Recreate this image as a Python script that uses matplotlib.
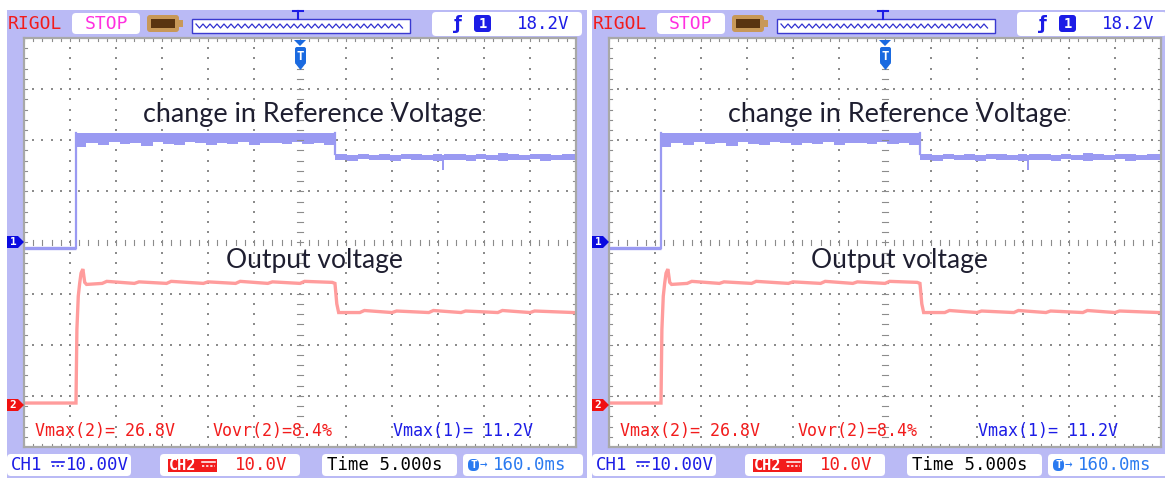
import matplotlib.pyplot as plt
import numpy as np
from matplotlib.patches import Rectangle, FancyBboxPatch, Polygon

W, H = 1165, 478
PANEL_SHIFT = 585

# ---- traces, in screen divisions (x: 0..12 div, y: -4..4 div) ----
ch1_base_t = [0.00, 1.12]
ch1_base_v = [-0.10, -0.10]
ch1_hi_top = 2.14
ch1_hi_t = [1.13, 1.35, 1.60, 1.85, 2.08, 2.30, 2.55, 2.80, 3.02, 3.25, 3.50, 3.72, 3.95,
            4.20, 4.42, 4.65, 4.90, 5.12, 5.35, 5.60, 5.82, 6.05, 6.30, 6.52, 6.76]
ch1_hi_bot = [1.86, 1.94, 1.90, 1.96, 1.92, 1.95, 1.89, 1.96, 1.93, 1.91, 1.96, 1.94, 1.90,
              1.95, 1.93, 1.96, 1.91, 1.95, 1.94, 1.92, 1.96, 1.93, 1.95, 1.91, 1.94]
ch1_lo_t = [6.76, 7.02, 7.25, 7.50, 7.72, 7.95, 8.20, 8.42, 8.65, 8.90, 9.08, 9.14,
            9.35, 9.60, 9.82, 10.05, 10.30, 10.52, 10.75, 11.00, 11.22, 11.45, 11.70, 11.98]
ch1_lo_top = [1.73, 1.72, 1.74, 1.72, 1.73, 1.72, 1.73, 1.74, 1.72, 1.73, 1.72, 1.73,
              1.74, 1.72, 1.73, 1.72, 1.76, 1.73, 1.72, 1.74, 1.73, 1.72, 1.74, 1.73]
ch1_lo_bot = [1.62, 1.60, 1.63, 1.61, 1.62, 1.60, 1.63, 1.61, 1.62, 1.60, 1.41, 1.61,
              1.62, 1.60, 1.63, 1.61, 1.60, 1.62, 1.61, 1.63, 1.60, 1.62, 1.61, 1.62]

ch2_t = [0.00, 1.13, 1.15, 1.18, 1.21, 1.24, 1.28, 1.32, 1.36,
         1.70, 1.80, 2.40, 2.50, 3.10, 3.20, 3.90, 4.00, 4.60, 4.70, 5.30, 5.40, 6.00, 6.10, 6.70,
         6.76, 6.80, 6.84,
         7.30, 7.40, 8.00, 8.10, 8.80, 8.90, 9.50, 9.60, 10.30, 10.40, 11.00, 11.10, 11.95]
ch2_v = [-3.14, -3.14, -1.70, -1.05, -0.80, -0.60, -0.52, -0.78, -0.82,
         -0.80, -0.76, -0.80, -0.77, -0.80, -0.76, -0.80, -0.77, -0.80, -0.76, -0.80, -0.77, -0.80, -0.76, -0.78,
         -0.80, -1.20, -1.37,
         -1.37, -1.33, -1.37, -1.34, -1.37, -1.33, -1.37, -1.34, -1.37, -1.33, -1.37, -1.34, -1.37]

# ---- texts ----
label_ref = "change in Reference Voltage"
label_out = "Output voltage"
meas_texts = ["Vmax(2)= 26.8V", "Vovr(2)=8.4%", "Vmax(1)= 11.2V"]
trig_level = "18.2V"
ch1_scale = "10.00V"
ch2_scale = "10.0V"
time_base = "Time 5.000s"
trig_pos = "160.0ms"

LAV = "#babaf5"
C1 = "#9a9af2"
C2 = "#ff9c9c"
BLUE = "#1c1ce6"
RED = "#f21c1c"
MONO = "DejaVu Sans Mono"

fig = plt.figure(figsize=(W / 100, H / 100), dpi=100)
fig.patch.set_facecolor("white")

bg = fig.add_axes([0, 0, 1, 1])
bg.set_xlim(0, W)
bg.set_ylim(H, 0)
bg.axis("off")
bg.set_zorder(0)

fg = fig.add_axes([0, 0, 1, 1])
fg.set_xlim(0, W)
fg.set_ylim(H, 0)
fg.axis("off")
fg.set_zorder(2)

renderer = fig.canvas.get_renderer()


def rbox(ax, x0, y0, x1, y1, fc, ec="none", r=4, lw=0):
    ax.add_patch(FancyBboxPatch((x0, y0), x1 - x0, y1 - y0,
                                boxstyle=f"round,pad=0,rounding_size={r}",
                                fc=fc, ec=ec, lw=lw))


def fit_text(ax, x, y, s, width, **kw):
    t = ax.text(x, y, s, ha="center", va="baseline", fontsize=20, **kw)
    bb = t.get_window_extent(renderer)
    t.set_fontsize(20 * width / bb.width)
    return t


def draw_panel(dx):
    # lavender frame
    bg.add_patch(Rectangle((7 + dx, 10), 580, 470, fc=LAV, ec="none"))

    # top bar
    bg.text(8 + dx, 24, "RIGOL", color=RED, family=MONO, fontsize=13, va="center")
    rbox(bg, 72 + dx, 13, 140 + dx, 34, "white")
    bg.text(106 + dx, 24, "STOP", color="#ff30e0", family=MONO, fontsize=13,
            va="center", ha="center")
    rbox(bg, 147 + dx, 15, 179 + dx, 32, "#c89858", r=3)
    bg.add_patch(Rectangle((151 + dx, 19), 24, 9, fc="#5a3410", ec="none"))
    bg.add_patch(Rectangle((179 + dx, 20), 4, 7, fc="#c89858", ec="none"))
    bg.add_patch(Rectangle((192 + dx, 19), 218, 14, fc="white", ec="#3a3ad0", lw=1))
    zx = np.arange(196, 406, 3.5)
    zy = np.where(np.arange(len(zx)) % 2 == 0, 24, 28)
    bg.plot(zx + dx, zy, color="#3030d0", lw=0.9)
    bg.plot([293 + dx, 303 + dx], [11, 11], color=BLUE, lw=1.5)
    bg.plot([298 + dx, 298 + dx], [11, 19], color=BLUE, lw=1.5)

    rbox(bg, 432 + dx, 12, 582 + dx, 36, "white")
    bg.text(458 + dx, 24, "ƒ", color=BLUE, fontsize=13, fontweight="bold",
            va="center", ha="center")
    rbox(bg, 474 + dx, 15, 491 + dx, 32, BLUE, r=3)
    bg.text(482.5 + dx, 24, "1", color="white", family=MONO, fontsize=10,
            fontweight="bold", va="center", ha="center")
    bg.text(517 + dx, 24, trig_level, color=BLUE, family=MONO, fontsize=12.5, va="center")

    # bottom bar
    rbox(bg, 7 + dx, 454, 131 + dx, 476, "white")
    bg.text(11 + dx, 465, "CH1", color=BLUE, family=MONO, fontsize=12.5, va="center")
    bg.plot([52 + dx, 64 + dx], [462, 462], color=BLUE, lw=1.2)
    bg.plot([52 + dx, 64 + dx], [466, 466], color=BLUE, lw=1.2, ls=(0, (1.5, 1.2)))
    bg.text(66 + dx, 465, ch1_scale, color=BLUE, family=MONO, fontsize=12.5, va="center")

    rbox(bg, 160 + dx, 454, 300 + dx, 476, "white")
    bg.add_patch(Rectangle((168 + dx, 459), 49, 13, fc=RED, ec="none"))
    bg.text(169 + dx, 465.5, "CH2", color="white", family=MONO, fontsize=11,
            fontweight="bold", va="center")
    bg.plot([202 + dx, 215 + dx], [462, 462], color="white", lw=1.1)
    bg.plot([202 + dx, 215 + dx], [466, 466], color="white", lw=1.1, ls=(0, (1.5, 1.2)))
    bg.text(235 + dx, 465, ch2_scale, color=RED, family=MONO, fontsize=12.5, va="center")

    rbox(bg, 322 + dx, 454, 457 + dx, 476, "white")
    bg.text(327 + dx, 465, time_base, color="black", family=MONO, fontsize=12.5, va="center")

    rbox(bg, 463 + dx, 454, 583 + dx, 476, "white")
    bg.add_patch(FancyBboxPatch((468 + dx, 459), 11, 12,
                                boxstyle="round,pad=0,rounding_size=5",
                                fc="#2a7af0", ec="none"))
    bg.text(473.5 + dx, 465.5, "T", color="white", family=MONO, fontsize=8,
            fontweight="bold", va="center", ha="center")
    bg.text(480 + dx, 465, "→", color="#2a7af0", family=MONO, fontsize=9, va="center")
    bg.text(493 + dx, 465, trig_pos, color="#2a7af0", family=MONO, fontsize=12.5, va="center")

    # graticule
    ax = fig.add_axes([(24 + dx) / W, (H - 447) / H, 552 / W, 409 / H])
    ax.set_zorder(1)
    ax.set_xlim(0, 12)
    ax.set_ylim(-4, 4)
    ax.set_xticks([])
    ax.set_yticks([])
    for s in ax.spines.values():
        s.set_color("#a8a8a8")
        s.set_linewidth(1.6)

    fine_y = np.arange(-4, 4.01, 0.2)
    fine_x = np.arange(0, 12.01, 0.2)
    for gx in [1, 2, 3, 4, 5, 7, 8, 9, 10, 11]:
        ax.scatter(np.full(len(fine_y), gx), fine_y, s=1.3, marker="s",
                   color="#8c8c8c", lw=0)
    for gy in [-3, -2, -1, 1, 2, 3]:
        ax.scatter(fine_x, np.full(len(fine_x), gy), s=1.3, marker="s",
                   color="#8c8c8c", lw=0)
    tx, ty = 0.055, 0.05
    for x in fine_x:
        ax.plot([x, x], [-ty, ty], color="#8c8c8c", lw=0.8)
        ax.plot([x, x], [4 - 1.2 * ty, 4], color="#8c8c8c", lw=0.8)
        ax.plot([x, x], [-4, -4 + 1.2 * ty], color="#8c8c8c", lw=0.8)
    for y in fine_y:
        ax.plot([6 - tx, 6 + tx], [y, y], color="#8c8c8c", lw=0.8)
        ax.plot([0, 1.2 * tx], [y, y], color="#8c8c8c", lw=0.8)
        ax.plot([12 - 1.2 * tx, 12], [y, y], color="#8c8c8c", lw=0.8)

    # CH1 trace
    ax.plot(ch1_base_t, ch1_base_v, color=C1, lw=2.4, solid_capstyle="butt")
    ax.plot([1.12, 1.12], [ch1_base_v[-1], ch1_hi_top], color=C1, lw=1.6)
    ax.fill_between(ch1_hi_t, ch1_hi_bot, ch1_hi_top, step="post", color=C1, lw=0)
    ax.plot([6.76, 6.76], [ch1_hi_top, ch1_lo_top[0]], color=C1, lw=1.6)
    ax.fill_between(ch1_lo_t, ch1_lo_bot, ch1_lo_top, step="post", color=C1, lw=0)
    # CH2 trace
    ax.plot(ch2_t, ch2_v, color=C2, lw=2.4, solid_joinstyle="miter")

    # annotations
    t = fit_text(fg, 313 + dx, 122, label_ref, 341, family="Lato", color="#1e1e30")
    t.set_clip_path(Rectangle((0, 90), W, 34, transform=fg.transData))
    fit_text(fg, 314 + dx, 268, label_out, 176, family="Lato", color="#1e1e30")

    for x0, s, c in zip([35, 213, 393], meas_texts, [RED, RED, BLUE]):
        fg.text(x0 + dx, 431, s, color=c, family=MONO, fontsize=12, va="center")

    # channel markers
    fg.add_patch(Polygon([(7 + dx, 236), (18 + dx, 236), (24 + dx, 242),
                          (18 + dx, 248), (7 + dx, 248)], fc="#0a0ae0", ec="none"))
    fg.text(13 + dx, 242, "1", color="white", family=MONO, fontsize=8,
            fontweight="bold", va="center", ha="center")
    fg.add_patch(Polygon([(7 + dx, 399), (18 + dx, 399), (24 + dx, 405),
                          (18 + dx, 411), (7 + dx, 411)], fc="#f01010", ec="none"))
    fg.text(13 + dx, 405, "2", color="white", family=MONO, fontsize=8,
            fontweight="bold", va="center", ha="center")

    # trigger position marker
    fg.add_patch(Polygon([(294 + dx, 40), (306 + dx, 40), (300 + dx, 46)],
                         fc="#1a6ae0", ec="none"))
    rbox(fg, 295 + dx, 47, 306 + dx, 64, "#1a6ae0", r=2)
    fg.add_patch(Polygon([(295 + dx, 63), (306 + dx, 63), (300.5 + dx, 70)],
                         fc="#1a6ae0", ec="none"))
    fg.text(300.5 + dx, 56, "T", color="white", family=MONO, fontsize=9,
            fontweight="bold", va="center", ha="center")


for dx in [0, PANEL_SHIFT]:
    draw_panel(dx)

fig.savefig("out.png", dpi=100, facecolor="white")
